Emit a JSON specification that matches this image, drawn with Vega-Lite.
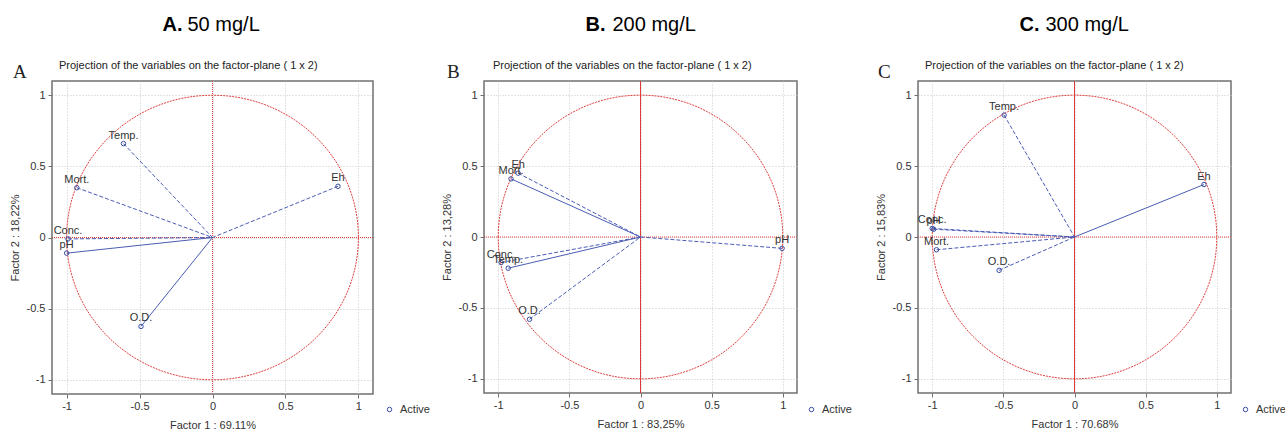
{
 "$schema": "https://vega.github.io/schema/vega-lite/v6.json",
 "background": "white",
 "padding": {"left": 8, "top": 14, "right": 0, "bottom": 0},
 "datasets": {
  "panels": [
   {"panel": "A", "head": "A.", "conc": "50 mg/L", "letter": "A", "ox": 0, "oy": 0},
   {"panel": "B", "head": "B.", "conc": "200 mg/L", "letter": "B", "ox": 0, "oy": 0},
   {"panel": "C", "head": "C.", "conc": "300 mg/L", "letter": "C", "ox": 0, "oy": 0}
  ],
  "vars": [
   {"panel": "A", "variable": "Temp.", "f1": -0.61, "f2": 0.66, "status": "Active"},
   {"panel": "A", "variable": "Mort.", "f1": -0.93, "f2": 0.35, "status": "Active"},
   {"panel": "A", "variable": "Conc.", "f1": -0.99, "f2": -0.01, "status": "Active"},
   {"panel": "A", "variable": "pH", "f1": -1.0, "f2": -0.11, "status": "Active"},
   {"panel": "A", "variable": "O.D.", "f1": -0.49, "f2": -0.625, "status": "Active"},
   {"panel": "A", "variable": "Eh", "f1": 0.86, "f2": 0.36, "status": "Active"},
   {"panel": "B", "variable": "Eh", "f1": -0.86, "f2": 0.45, "status": "Active"},
   {"panel": "B", "variable": "Mort.", "f1": -0.91, "f2": 0.41, "status": "Active"},
   {"panel": "B", "variable": "Conc.", "f1": -0.98, "f2": -0.18, "status": "Active"},
   {"panel": "B", "variable": "Temp.", "f1": -0.93, "f2": -0.22, "status": "Active"},
   {"panel": "B", "variable": "O.D.", "f1": -0.78, "f2": -0.58, "status": "Active"},
   {"panel": "B", "variable": "pH", "f1": 0.995, "f2": -0.08, "status": "Active"},
   {"panel": "C", "variable": "Temp.", "f1": -0.495, "f2": 0.86, "status": "Active"},
   {"panel": "C", "variable": "Eh", "f1": 0.91, "f2": 0.37, "status": "Active"},
   {"panel": "C", "variable": "Conc.", "f1": -1.0, "f2": 0.06, "status": "Active"},
   {"panel": "C", "variable": "pH", "f1": -0.99, "f2": 0.055, "status": "Active"},
   {"panel": "C", "variable": "Mort.", "f1": -0.97, "f2": -0.09, "status": "Active"},
   {"panel": "C", "variable": "O.D.", "f1": -0.53, "f2": -0.235, "status": "Active"}
  ]
 },
 "spacing": 111,
 "bounds": "flush",
 "resolve": {"scale": {"color": "independent"}, "legend": {"color": "independent"}},
 "hconcat": [
  {
   "width": 321, "height": 313,
   "layer": [
    {"data": {"name": "panels"}, "transform": [{"filter": "datum.panel === 'A'"}],
     "mark": {"type": "rule", "color": "#e04040", "stroke": "#e04040", "strokeWidth": 1, "strokeDash": [1, 1]},
     "encoding": {"x": {"field": "ox", "type": "quantitative"}}},
    {"data": {"name": "panels"}, "transform": [{"filter": "datum.panel === 'A'"}],
     "mark": {"type": "rule", "color": "#e04040", "stroke": "#e04040", "strokeWidth": 1, "strokeDash": [1, 1]},
     "encoding": {"y": {"field": "oy", "type": "quantitative"}}},
    {"data": {"name": "panels"}, "transform": [{"filter": "datum.panel === 'A'"}],
     "mark": {"type": "point", "shape": "M -1 0 A 1 0.975 0 1 1 1 0 A 1 0.975 0 1 1 -1 0 Z", "size": 85150, "filled": false, "stroke": "#e04040", "strokeWidth": 1, "strokeDash": [2, 1], "opacity": 1},
     "encoding": {"x": {"field": "ox", "type": "quantitative"}, "y": {"field": "oy", "type": "quantitative"}}},
    {"data": {"name": "vars"}, "transform": [{"filter": "datum.panel === 'A' && datum.variable !== 'pH' && datum.variable !== 'O.D.'"}, {"lookup": "panel", "from": {"data": {"name": "panels"}, "key": "panel", "fields": ["ox", "oy"]}}],
     "mark": {"type": "rule", "color": "#4a5cb4", "strokeWidth": 1, "strokeDash": [4, 2]},
     "encoding": {"x": {"field": "f1", "type": "quantitative"}, "y": {"field": "f2", "type": "quantitative"}, "x2": {"field": "ox"}, "y2": {"field": "oy"}}},
    {"data": {"name": "vars"}, "transform": [{"filter": "datum.panel === 'A' && (datum.variable === 'pH' || datum.variable === 'O.D.')"}, {"lookup": "panel", "from": {"data": {"name": "panels"}, "key": "panel", "fields": ["ox", "oy"]}}],
     "mark": {"type": "rule", "color": "#4a5cb4", "strokeWidth": 1},
     "encoding": {"x": {"field": "f1", "type": "quantitative"}, "y": {"field": "f2", "type": "quantitative"}, "x2": {"field": "ox"}, "y2": {"field": "oy"}}},
    {"data": {"name": "vars"}, "transform": [{"filter": "datum.panel === 'A'"}],
     "mark": {"type": "point", "shape": "circle", "filled": false, "size": 20, "strokeWidth": 1, "opacity": 1},
     "encoding": {
      "x": {"field": "f1", "type": "quantitative", "scale": {"domain": [-1.1, 1.1], "nice": false, "zero": false},
            "axis": {"orient": "bottom", "values": [-1, -0.5, 0, 0.5, 1], "labelExpr": "datum.value < 0 ? '-' + format(-datum.value, '') : format(datum.value, '')", "tickSize": 4, "labelPadding": 2, "grid": true, "gridColor": "#c8c8c8", "gridDash": [1, 2], "domain": false, "title": "Factor 1 : 69,11%", "titlePadding": 8}},
      "y": {"field": "f2", "type": "quantitative", "scale": {"domain": [-1.1, 1.1], "nice": false, "zero": false},
            "axis": {"orient": "left", "values": [-1, -0.5, 0, 0.5, 1], "labelExpr": "datum.value < 0 ? '-' + format(-datum.value, '') : format(datum.value, '')", "tickSize": 4, "labelPadding": 3, "grid": true, "gridColor": "#c8c8c8", "gridDash": [1, 2], "domain": false, "title": "Factor 2 : 18,22%", "titlePadding": 6}},
      "color": {"field": "status", "type": "nominal", "scale": {"range": ["#3a4ca0"]},
                "legend": {"orient": "none", "legendX": 332, "legendY": 323, "title": null}}
     }},
    {"data": {"name": "vars"}, "transform": [{"filter": "datum.panel === 'A'"}],
     "mark": {"type": "text", "dy": -5, "align": "center", "baseline": "alphabetic", "fontSize": 11, "color": "#333"},
     "encoding": {"x": {"field": "f1", "type": "quantitative"}, "y": {"field": "f2", "type": "quantitative"}, "text": {"field": "variable", "type": "nominal"}}},
    {"data": {"name": "panels"}, "transform": [{"filter": "datum.panel === 'A'"}],
     "mark": {"type": "text", "align": "right", "baseline": "alphabetic", "dx": -30, "dy": -206.5, "fontSize": 20, "fontWeight": "bold", "font": "Liberation Sans", "color": "#000"},
     "encoding": {"x": {"field": "ox", "type": "quantitative"}, "y": {"field": "oy", "type": "quantitative"}, "text": {"field": "head", "type": "nominal"}}},
    {"data": {"name": "panels"}, "transform": [{"filter": "datum.panel === 'A'"}],
     "mark": {"type": "text", "align": "left", "baseline": "alphabetic", "dx": -25, "dy": -206.5, "fontSize": 20, "font": "Liberation Sans", "color": "#000"},
     "encoding": {"x": {"field": "ox", "type": "quantitative"}, "y": {"field": "oy", "type": "quantitative"}, "text": {"field": "conc", "type": "nominal"}}},
    {"data": {"name": "panels"}, "transform": [{"filter": "datum.panel === 'A'"}],
     "mark": {"type": "text", "align": "left", "baseline": "alphabetic", "dx": -199.5, "dy": -159.5, "fontSize": 19, "font": "Liberation Serif", "color": "#222"},
     "encoding": {"x": {"field": "ox", "type": "quantitative"}, "y": {"field": "oy", "type": "quantitative"}, "text": {"field": "letter", "type": "nominal"}}},
    {"data": {"name": "panels"}, "transform": [{"filter": "datum.panel === 'A'"}],
     "mark": {"type": "text", "text": "Projection of the variables on the factor-plane ( 1 x  2)", "align": "left", "baseline": "alphabetic", "dx": -153.5, "dy": -168.5, "fontSize": 11, "color": "#222"},
     "encoding": {"x": {"field": "ox", "type": "quantitative"}, "y": {"field": "oy", "type": "quantitative"}}}
   ]
  },
  {
   "spacing": 121,
   "bounds": "flush",
   "resolve": {"scale": {"color": "independent"}, "legend": {"color": "independent"}},
   "hconcat": [
    {
     "width": 313, "height": 312,
     "layer": [
      {"data": {"name": "panels"}, "transform": [{"filter": "datum.panel === 'B'"}],
       "mark": {"type": "rule", "color": "#e03a3a", "stroke": "#e03a3a", "strokeWidth": 1},
       "encoding": {"x": {"field": "ox", "type": "quantitative"}}},
      {"data": {"name": "panels"}, "transform": [{"filter": "datum.panel === 'B'"}],
       "mark": {"type": "rule", "color": "#e04040", "stroke": "#e04040", "strokeWidth": 1, "strokeDash": [1, 1]},
       "encoding": {"y": {"field": "oy", "type": "quantitative"}}},
      {"data": {"name": "panels"}, "transform": [{"filter": "datum.panel === 'B'"}],
       "mark": {"type": "point", "shape": "M -1 0 A 1 0.997 0 1 1 1 0 A 1 0.997 0 1 1 -1 0 Z", "size": 80967, "filled": false, "stroke": "#e04040", "strokeWidth": 1, "strokeDash": [2, 1], "opacity": 1},
       "encoding": {"x": {"field": "ox", "type": "quantitative"}, "y": {"field": "oy", "type": "quantitative"}}},
      {"data": {"name": "vars"}, "transform": [{"filter": "datum.panel === 'B' && datum.variable !== 'Mort.' && datum.variable !== 'Temp.'"}, {"lookup": "panel", "from": {"data": {"name": "panels"}, "key": "panel", "fields": ["ox", "oy"]}}],
       "mark": {"type": "rule", "color": "#4a5cb4", "strokeWidth": 1, "strokeDash": [4, 2]},
       "encoding": {"x": {"field": "f1", "type": "quantitative"}, "y": {"field": "f2", "type": "quantitative"}, "x2": {"field": "ox"}, "y2": {"field": "oy"}}},
      {"data": {"name": "vars"}, "transform": [{"filter": "datum.panel === 'B' && (datum.variable === 'Mort.' || datum.variable === 'Temp.')"}, {"lookup": "panel", "from": {"data": {"name": "panels"}, "key": "panel", "fields": ["ox", "oy"]}}],
       "mark": {"type": "rule", "color": "#4a5cb4", "strokeWidth": 1},
       "encoding": {"x": {"field": "f1", "type": "quantitative"}, "y": {"field": "f2", "type": "quantitative"}, "x2": {"field": "ox"}, "y2": {"field": "oy"}}},
      {"data": {"name": "vars"}, "transform": [{"filter": "datum.panel === 'B'"}],
       "mark": {"type": "point", "shape": "circle", "filled": false, "size": 20, "strokeWidth": 1, "opacity": 1},
       "encoding": {
        "x": {"field": "f1", "type": "quantitative", "scale": {"domain": [-1.1, 1.1], "nice": false, "zero": false},
              "axis": {"orient": "bottom", "values": [-1, -0.5, 0, 0.5, 1], "labelExpr": "datum.value < 0 ? '-' + format(-datum.value, '') : format(datum.value, '')", "tickSize": 4, "labelPadding": 2, "grid": true, "gridColor": "#c8c8c8", "gridDash": [1, 2], "domain": false, "title": "Factor 1 : 83,25%", "titlePadding": 8}},
        "y": {"field": "f2", "type": "quantitative", "scale": {"domain": [-1.1, 1.1], "nice": false, "zero": false},
              "axis": {"orient": "left", "values": [-1, -0.5, 0, 0.5, 1], "labelExpr": "datum.value < 0 ? '-' + format(-datum.value, '') : format(datum.value, '')", "tickSize": 4, "labelPadding": 3, "grid": true, "gridColor": "#c8c8c8", "gridDash": [1, 2], "domain": false, "title": "Factor 2 : 13,28%", "titlePadding": 6}},
        "color": {"field": "status", "type": "nominal", "scale": {"range": ["#3a4ca0"]},
                  "legend": {"orient": "none", "legendX": 322, "legendY": 323, "title": null}}
       }},
      {"data": {"name": "vars"}, "transform": [{"filter": "datum.panel === 'B'"}],
       "mark": {"type": "text", "dy": -5, "align": "center", "baseline": "alphabetic", "fontSize": 11, "color": "#333"},
       "encoding": {"x": {"field": "f1", "type": "quantitative"}, "y": {"field": "f2", "type": "quantitative"}, "text": {"field": "variable", "type": "nominal"}}},
      {"data": {"name": "panels"}, "transform": [{"filter": "datum.panel === 'B'"}],
       "mark": {"type": "text", "align": "right", "baseline": "alphabetic", "dx": -35, "dy": -206, "fontSize": 20, "fontWeight": "bold", "font": "Liberation Sans", "color": "#000"},
       "encoding": {"x": {"field": "ox", "type": "quantitative"}, "y": {"field": "oy", "type": "quantitative"}, "text": {"field": "head", "type": "nominal"}}},
      {"data": {"name": "panels"}, "transform": [{"filter": "datum.panel === 'B'"}],
       "mark": {"type": "text", "align": "left", "baseline": "alphabetic", "dx": -28, "dy": -206, "fontSize": 20, "font": "Liberation Sans", "color": "#000"},
       "encoding": {"x": {"field": "ox", "type": "quantitative"}, "y": {"field": "oy", "type": "quantitative"}, "text": {"field": "conc", "type": "nominal"}}},
      {"data": {"name": "panels"}, "transform": [{"filter": "datum.panel === 'B'"}],
       "mark": {"type": "text", "align": "left", "baseline": "alphabetic", "dx": -193.5, "dy": -159, "fontSize": 19, "font": "Liberation Serif", "color": "#222"},
       "encoding": {"x": {"field": "ox", "type": "quantitative"}, "y": {"field": "oy", "type": "quantitative"}, "text": {"field": "letter", "type": "nominal"}}},
      {"data": {"name": "panels"}, "transform": [{"filter": "datum.panel === 'B'"}],
       "mark": {"type": "text", "text": "Projection of the variables on the factor-plane ( 1 x  2)", "align": "left", "baseline": "alphabetic", "dx": -147.5, "dy": -168, "fontSize": 11, "color": "#222"},
       "encoding": {"x": {"field": "ox", "type": "quantitative"}, "y": {"field": "oy", "type": "quantitative"}}}
     ]
    },
    {
     "width": 313, "height": 312,
     "layer": [
      {"data": {"name": "panels"}, "transform": [{"filter": "datum.panel === 'C'"}],
       "mark": {"type": "rule", "color": "#e03a3a", "stroke": "#e03a3a", "strokeWidth": 1},
       "encoding": {"x": {"field": "ox", "type": "quantitative"}}},
      {"data": {"name": "panels"}, "transform": [{"filter": "datum.panel === 'C'"}],
       "mark": {"type": "rule", "color": "#e04040", "stroke": "#e04040", "strokeWidth": 1, "strokeDash": [1, 1]},
       "encoding": {"y": {"field": "oy", "type": "quantitative"}}},
      {"data": {"name": "panels"}, "transform": [{"filter": "datum.panel === 'C'"}],
       "mark": {"type": "point", "shape": "M -1 0 A 1 0.997 0 1 1 1 0 A 1 0.997 0 1 1 -1 0 Z", "size": 80967, "filled": false, "stroke": "#e04040", "strokeWidth": 1, "strokeDash": [2, 1], "opacity": 1},
       "encoding": {"x": {"field": "ox", "type": "quantitative"}, "y": {"field": "oy", "type": "quantitative"}}},
      {"data": {"name": "vars"}, "transform": [{"filter": "datum.panel === 'C' && datum.variable !== 'Eh'"}, {"lookup": "panel", "from": {"data": {"name": "panels"}, "key": "panel", "fields": ["ox", "oy"]}}],
       "mark": {"type": "rule", "color": "#4a5cb4", "strokeWidth": 1, "strokeDash": [4, 2]},
       "encoding": {"x": {"field": "f1", "type": "quantitative"}, "y": {"field": "f2", "type": "quantitative"}, "x2": {"field": "ox"}, "y2": {"field": "oy"}}},
      {"data": {"name": "vars"}, "transform": [{"filter": "datum.panel === 'C' && datum.variable === 'Eh'"}, {"lookup": "panel", "from": {"data": {"name": "panels"}, "key": "panel", "fields": ["ox", "oy"]}}],
       "mark": {"type": "rule", "color": "#4a5cb4", "strokeWidth": 1},
       "encoding": {"x": {"field": "f1", "type": "quantitative"}, "y": {"field": "f2", "type": "quantitative"}, "x2": {"field": "ox"}, "y2": {"field": "oy"}}},
      {"data": {"name": "vars"}, "transform": [{"filter": "datum.panel === 'C'"}],
       "mark": {"type": "point", "shape": "circle", "filled": false, "size": 20, "strokeWidth": 1, "opacity": 1},
       "encoding": {
        "x": {"field": "f1", "type": "quantitative", "scale": {"domain": [-1.1, 1.1], "nice": false, "zero": false},
              "axis": {"orient": "bottom", "values": [-1, -0.5, 0, 0.5, 1], "labelExpr": "datum.value < 0 ? '-' + format(-datum.value, '') : format(datum.value, '')", "tickSize": 4, "labelPadding": 2, "grid": true, "gridColor": "#c8c8c8", "gridDash": [1, 2], "domain": false, "title": "Factor 1 : 70.68%", "titlePadding": 8}},
        "y": {"field": "f2", "type": "quantitative", "scale": {"domain": [-1.1, 1.1], "nice": false, "zero": false},
              "axis": {"orient": "left", "values": [-1, -0.5, 0, 0.5, 1], "labelExpr": "datum.value < 0 ? '-' + format(-datum.value, '') : format(datum.value, '')", "tickSize": 4, "labelPadding": 3, "grid": true, "gridColor": "#c8c8c8", "gridDash": [1, 2], "domain": false, "title": "Factor 2 : 15,83%", "titlePadding": 6}},
        "color": {"field": "status", "type": "nominal", "scale": {"range": ["#3a4ca0"]},
                  "legend": {"orient": "none", "legendX": 322, "legendY": 323, "title": null}}
       }},
      {"data": {"name": "vars"}, "transform": [{"filter": "datum.panel === 'C'"}],
       "mark": {"type": "text", "dy": -5, "align": "center", "baseline": "alphabetic", "fontSize": 11, "color": "#333"},
       "encoding": {"x": {"field": "f1", "type": "quantitative"}, "y": {"field": "f2", "type": "quantitative"}, "text": {"field": "variable", "type": "nominal"}}},
      {"data": {"name": "panels"}, "transform": [{"filter": "datum.panel === 'C'"}],
       "mark": {"type": "text", "align": "right", "baseline": "alphabetic", "dx": -35, "dy": -206, "fontSize": 20, "fontWeight": "bold", "font": "Liberation Sans", "color": "#000"},
       "encoding": {"x": {"field": "ox", "type": "quantitative"}, "y": {"field": "oy", "type": "quantitative"}, "text": {"field": "head", "type": "nominal"}}},
      {"data": {"name": "panels"}, "transform": [{"filter": "datum.panel === 'C'"}],
       "mark": {"type": "text", "align": "left", "baseline": "alphabetic", "dx": -29, "dy": -206, "fontSize": 20, "font": "Liberation Sans", "color": "#000"},
       "encoding": {"x": {"field": "ox", "type": "quantitative"}, "y": {"field": "oy", "type": "quantitative"}, "text": {"field": "conc", "type": "nominal"}}},
      {"data": {"name": "panels"}, "transform": [{"filter": "datum.panel === 'C'"}],
       "mark": {"type": "text", "align": "left", "baseline": "alphabetic", "dx": -196.5, "dy": -159, "fontSize": 19, "font": "Liberation Serif", "color": "#222"},
       "encoding": {"x": {"field": "ox", "type": "quantitative"}, "y": {"field": "oy", "type": "quantitative"}, "text": {"field": "letter", "type": "nominal"}}},
      {"data": {"name": "panels"}, "transform": [{"filter": "datum.panel === 'C'"}],
       "mark": {"type": "text", "text": "Projection of the variables on the factor-plane ( 1 x  2)", "align": "left", "baseline": "alphabetic", "dx": -149.5, "dy": -168, "fontSize": 11, "color": "#222"},
       "encoding": {"x": {"field": "ox", "type": "quantitative"}, "y": {"field": "oy", "type": "quantitative"}}}
     ]
    }
   ]
  }
 ],
 "config": {
  "font": "Liberation Sans",
  "view": {"stroke": "#707070", "strokeWidth": 1.5},
  "axis": {"labelFont": "Liberation Sans", "titleFont": "Liberation Sans", "labelFontSize": 11, "titleFontSize": 11, "labelColor": "#333", "titleColor": "#333", "titleFontWeight": "normal", "tickColor": "#707070"},
  "legend": {"labelFont": "Liberation Sans", "labelFontSize": 11, "labelColor": "#333", "symbolSize": 20, "symbolStrokeWidth": 1, "labelOffset": 5, "padding": 0},
  "text": {"font": "Liberation Sans"}
 }
}
